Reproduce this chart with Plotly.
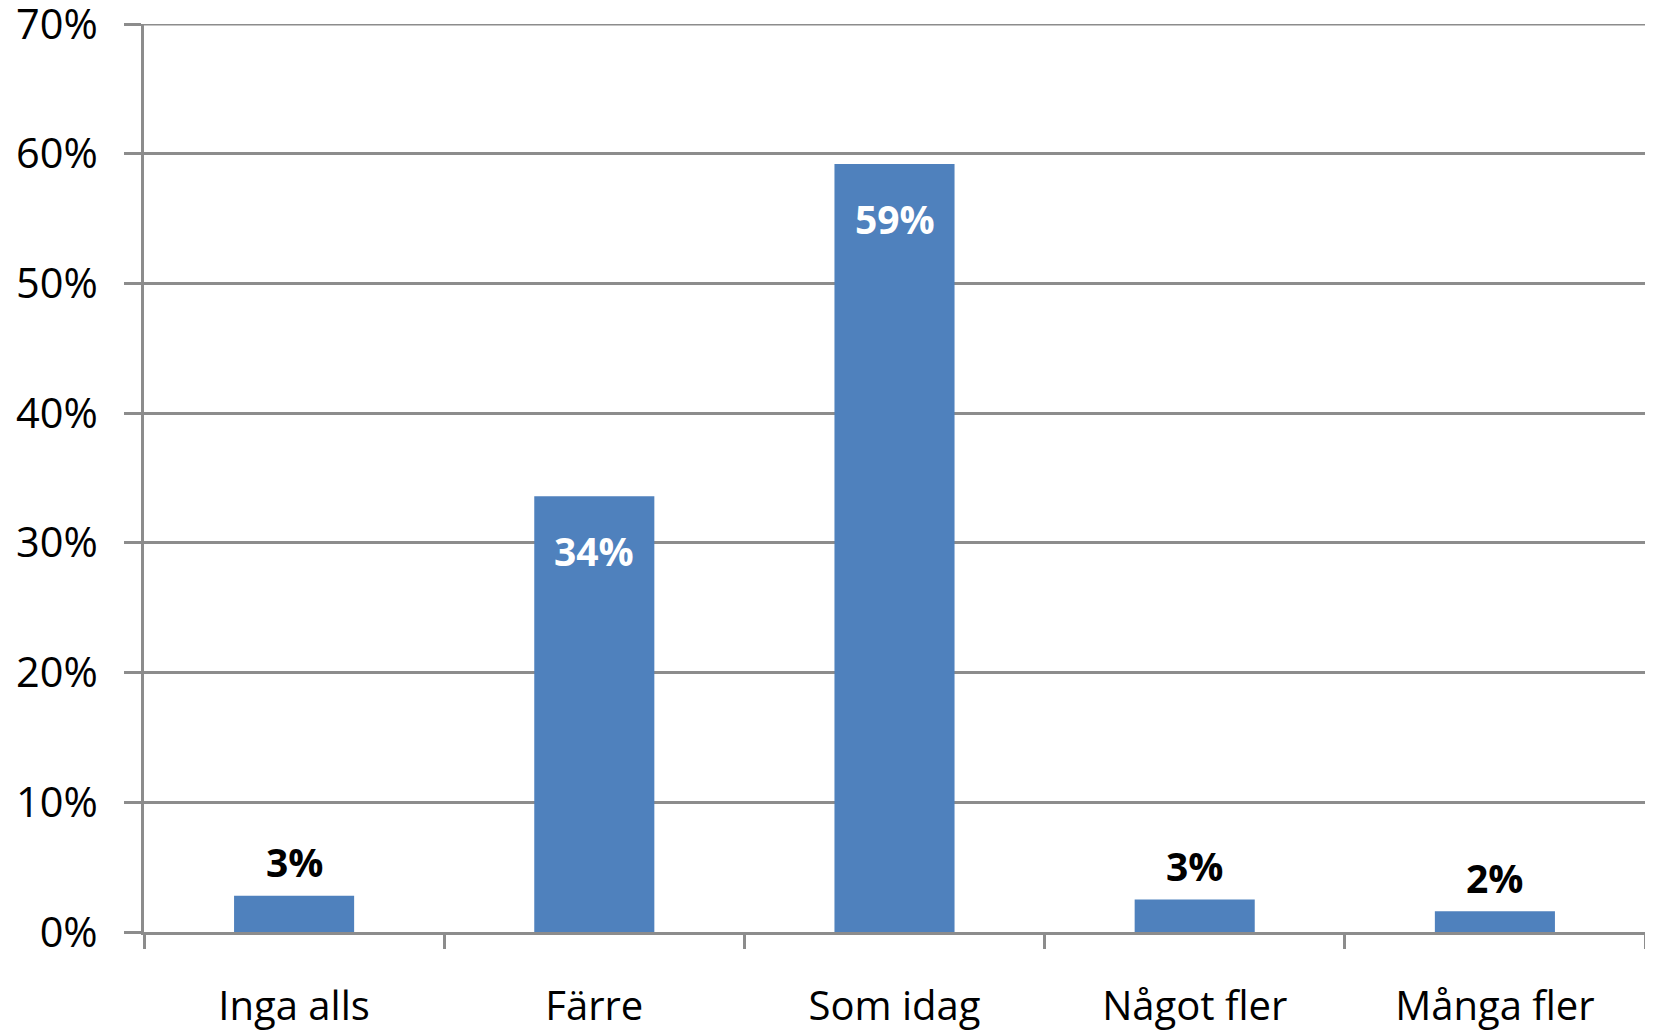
import plotly.graph_objects as go

categories = ["Inga alls", "Färre", "Som idag", "Något fler", "Många fler"]
values = [2.8, 33.6, 59.2, 2.5, 1.6]
labels = ["3%", "34%", "59%", "3%", "2%"]
inside = [False, True, True, False, False]
y_ticks = [0, 10, 20, 30, 40, 50, 60, 70]

FONT = "'Open Sans', sans-serif"
GRAY = "#8c8c8c"
BAR = "#4f81bd"

fig = go.Figure()
fig.add_trace(go.Bar(
    x=categories, y=values, marker=dict(color=BAR, line=dict(width=0)),
    width=0.4, hoverinfo="skip",
))

for c, v, t, ins in zip(categories, values, labels, inside):
    fig.add_annotation(
        x=c, y=v, text=f"<b>{t}</b>", showarrow=False,
        yanchor="middle", xanchor="center",
        yshift=-54 if ins else 34,
        font=dict(family=FONT, size=39, color="white" if ins else "black"),
    )

# top gridline at 70%
fig.add_shape(type="line", xref="paper", yref="y", x0=0, x1=1, y0=70, y1=70,
              line=dict(color=GRAY, width=3))

fig.update_layout(
    width=1645, height=1023,
    margin=dict(l=136, r=8, t=16, b=99),
    plot_bgcolor="white", paper_bgcolor="white",
    showlegend=False,
    font=dict(family=FONT, size=41, color="black"),
    bargap=0.6,
)
fig.update_xaxes(
    type="category", tickson="boundaries", ticks="outside", ticklen=14,
    tickwidth=3, tickcolor=GRAY, showline=True, linecolor=GRAY, linewidth=3,
    showgrid=False, ticklabelstandoff=37, automargin=False,
    ticklabeloverflow="allow",
    tickfont=dict(family=FONT, size=40, color="black"),
)
fig.update_yaxes(
    range=[0, 70], tickvals=y_ticks, ticktext=[f"{t}%" for t in y_ticks],
    ticks="outside", ticklen=17, tickwidth=3, tickcolor=GRAY,
    showline=True, linecolor=GRAY, linewidth=3,
    showgrid=True, gridcolor=GRAY, gridwidth=3, zeroline=False,
    ticklabelstandoff=18, automargin=False, ticklabeloverflow="allow",
    tickfont=dict(family=FONT, size=41.5, color="black"),
)

fig.write_html("out.html")
